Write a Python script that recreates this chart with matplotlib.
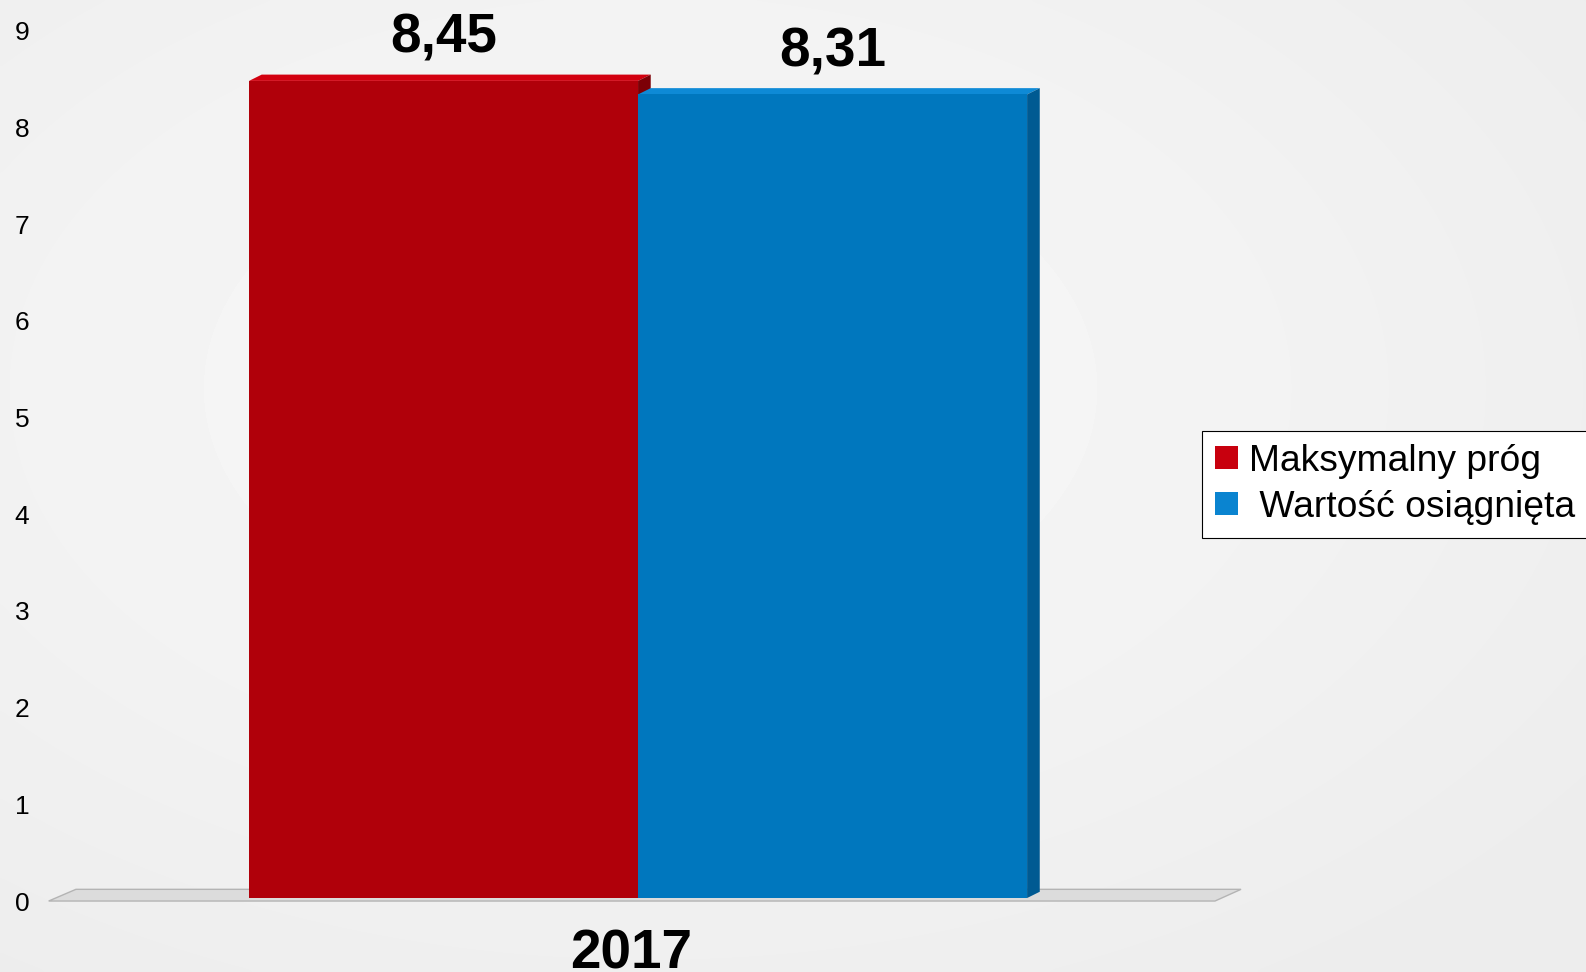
import numpy as np
import matplotlib
matplotlib.use('Agg')
import matplotlib.pyplot as plt
from matplotlib.patches import Polygon, Patch
from matplotlib.transforms import ScaledTranslation

plt.rcParams['font.family'] = ['Liberation Sans', 'DejaVu Sans']

# data
years = ['2017']
series_names = ['Maksymalny próg', ' Wartość osiągnięta']
values = [8.45, 8.31]
value_labels = ['8,45', '8,31']
y_ticks = list(range(10))

front_colors = ['#b0000a', '#0077be']
top_colors = ['#d2000f', '#0e8ad6']
side_colors = ['#7c0006', '#005a92']
legend_colors = ['#c8000e', '#0a84d0']

fig = plt.figure(figsize=(15.86, 9.72), dpi=100)

# soft radial background
bg = fig.add_axes([0, 0, 1, 1], zorder=-5)
gx, gy = np.meshgrid(np.linspace(-1, 1, 400), np.linspace(-1, 1, 250))
r = np.sqrt(((gx + 0.18) / 1.1) ** 2 + ((gy + 0.2) / 1.1) ** 2)
shade = 0.975 - 0.035 * np.clip(r, 0, 1.4)
bg.imshow(shade, cmap='gray', vmin=0, vmax=1, aspect='auto', extent=[0, 1, 0, 1],
          interpolation='bicubic')
bg.axis('off')

ax = fig.add_axes([0.0221, 0.0761, 0.7604, 0.8954])
ax.set_facecolor('none')
ax.set_xlim(-1.55, 1.55)
ax.set_ylim(0, 9)

# depth of the pseudo-3D boxes in data units
ddx, ddy = 0.0326, 0.065

# floor plate
floor = Polygon([(-1.515, -0.031), (1.483, -0.031), (1.55, 0.09), (-1.445, 0.09)],
                closed=True, facecolor='#dcdcdc', edgecolor='#b4b4b4', lw=1,
                clip_on=False, zorder=1)
ax.add_patch(floor)

xpos = [-0.5, 0.5]
for i, (x, v) in enumerate(zip(xpos, values)):
    x0, x1 = x - 0.5, x + 0.5
    z = 2 + 2 * i
    ax.bar(x, v, width=1, color=front_colors[i], zorder=z + 1, linewidth=0)
    ax.add_patch(Polygon([(x0, v), (x1, v), (x1 + ddx, v + ddy), (x0 + ddx, v + ddy)],
                         facecolor=top_colors[i], lw=0, zorder=z, clip_on=False))
    ax.add_patch(Polygon([(x1, 0), (x1, v), (x1 + ddx, v + ddy), (x1 + ddx, ddy)],
                         facecolor=side_colors[i], lw=0, zorder=z, clip_on=False))
    ax.annotate(value_labels[i], xy=(x, v), xytext=(0, 30.5), textcoords='offset points',
                ha='center', va='center', fontsize=39.5, fontweight='bold', zorder=10)

for s in ax.spines.values():
    s.set_visible(False)

ax.set_yticks(y_ticks)
ax.set_yticklabels([str(t) for t in y_ticks], fontsize=19)
ax.tick_params(axis='y', length=0, pad=4)
for lab in ax.get_yticklabels():
    lab.set_transform(lab.get_transform() + ScaledTranslation(0, -3 / 100, fig.dpi_scale_trans))

ax.set_xticks([0])
ax.set_xticklabels(years, fontsize=39.5, fontweight='bold')
ax.tick_params(axis='x', length=0, pad=22)
for lab in ax.get_xticklabels():
    lab.set_transform(lab.get_transform() + ScaledTranslation(-7 / 100, 0, fig.dpi_scale_trans))

handles = [Patch(facecolor=c, edgecolor='none') for c in legend_colors]
leg = fig.legend(handles, series_names, loc='upper left',
                 bbox_to_anchor=(0.758, 0.557, 0.25, 0.0), mode='expand',
                 borderaxespad=0, fontsize=26.8, frameon=True, fancybox=False,
                 edgecolor='black', handlelength=0.6, handleheight=0.6,
                 handletextpad=0.3, borderpad=0.35, labelspacing=0.3)
leg.get_frame().set_linewidth(0.8)
leg.get_frame().set_facecolor('white')
leg.get_frame().set_alpha(1)

fig.savefig('out.png', dpi=100)
